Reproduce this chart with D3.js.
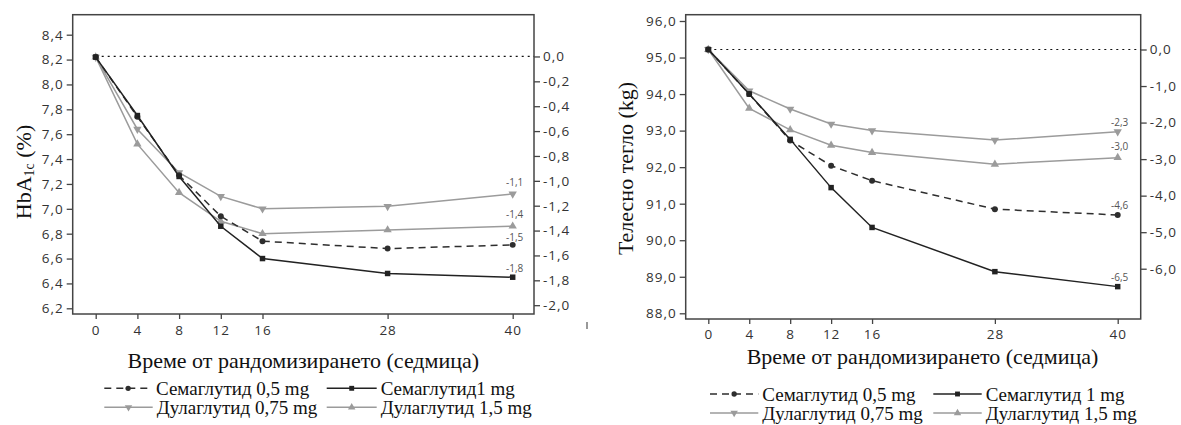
<!DOCTYPE html>
<html>
<head>
<meta charset="utf-8">
<script src="https://cdn.jsdelivr.net/npm/d3@7"></script>
<style>
  body { margin: 0; background: #fff; }
  .tick text { font-family: 'Open Sans', sans-serif; font-size: 13.5px; letter-spacing: 1px; fill: #333; }
  .tick line { stroke: #444; stroke-width: 1.3; }
  .serif { font-family: 'Liberation Serif', 'Times New Roman', serif; fill: #111; }
  .endlab { font-family: 'Open Sans', sans-serif; font-size: 10px; fill: #555; }
</style>
</head>
<body>
<div class="canvas"></div>
<script>
// data
const weeks = [0, 4, 8, 12, 16, 28, 40];
const seriesNames = ['Семаглутид 0,5 mg', 'Семаглутид1 mg', 'Дулаглутид 0,75 mg', 'Дулаглутид 1,5 mg'];
const seriesNamesWeight = ['Семаглутид 0,5 mg', 'Семаглутид 1 mg', 'Дулаглутид 0,75 mg', 'Дулаглутид 1,5 mg'];

const hbaSema05 = [8.22, 7.74, 7.27, 6.94, 6.74, 6.68, 6.71];
const hbaSema1 = [8.22, 7.75, 7.26, 6.86, 6.60, 6.48, 6.45];
const hbaDula075 = [8.22, 7.64, 7.29, 7.10, 7.00, 7.02, 7.12];
const hbaDula15 = [8.22, 7.52, 7.13, 6.90, 6.80, 6.83, 6.86];
const hbaEndLabels = ['-1,5', '-1,8', '-1,1', '-1,4'];
const hbaTicks = [6.2, 6.4, 6.6, 6.8, 7.0, 7.2, 7.4, 7.6, 7.8, 8.0, 8.2, 8.4];
const hbaChangeTicks = [-2.0, -1.8, -1.6, -1.4, -1.2, -1.0, -0.8, -0.6, -0.4, -0.2, 0.0];

const wSema05 = [95.22, 94.00, 92.73, 92.04, 91.63, 90.85, 90.69];
const wSema1 = [95.22, 94.00, 92.76, 91.44, 90.35, 89.14, 88.73];
const wDula075 = [95.22, 94.09, 93.59, 93.18, 93.00, 92.74, 92.97];
const wDula15 = [95.22, 93.61, 93.02, 92.60, 92.40, 92.08, 92.26];
const wEndLabels = ['-4,6', '-6,5', '-2,3', '-3,0'];
const wTicks = [88, 89, 90, 91, 92, 93, 94, 95, 96];
const wChangeTicks = [-6, -5, -4, -3, -2, -1, 0];

const xTitle = 'Време от рандомизирането (седмица)';

// number format with comma decimal and plain hyphen
const fmt = d3.formatLocale({ decimal: ',', thousands: ' ', grouping: [3], currency: ['', ''], minus: '-' }).format('.1f');

// series styles
const styles = [
  { color: '#2e2e2e', dash: '7,5', symbol: d3.symbolCircle, size: 28, rot: 0 },
  { color: '#222', dash: null, symbol: d3.symbolSquare, size: 30, rot: 0 },
  { color: '#9b9b9b', dash: null, symbol: d3.symbolTriangle, size: 30, rot: 180 },
  { color: '#9b9b9b', dash: null, symbol: d3.symbolTriangle, size: 30, rot: 0 }
];

const svg = d3.select('.canvas')
  .append('svg')
  .attr('width', 1181)
  .attr('height', 425);

const drawPanel = cfg => {
  const g = svg.append('g');
  const f = cfg.frame;

  const x = d3.scaleLinear().domain([0, 40]).range(cfg.xRange);
  const y = d3.scaleLinear().domain(cfg.yDomain).range(cfg.yRange);
  const pxPerUnit = (cfg.yRange[0] - cfg.yRange[1]) / (cfg.yDomain[1] - cfg.yDomain[0]);
  const yB = y(cfg.baseline);
  const y2 = d3.scaleLinear().domain([0, 1]).range([yB, yB - pxPerUnit]);

  // frame
  g.append('rect')
    .attr('x', f.x0).attr('y', f.y0)
    .attr('width', f.x1 - f.x0).attr('height', f.y1 - f.y0)
    .attr('fill', 'none')
    .attr('stroke', '#444')
    .attr('stroke-width', 1.5);

  // axes
  const yAxis = d3.axisLeft(y).tickValues(cfg.yTicks).tickFormat(fmt).tickSize(6).tickPadding(3);
  const y2Axis = d3.axisRight(y2).tickValues(cfg.changeTicks).tickFormat(fmt).tickSize(6).tickPadding(3);
  const xAxis = d3.axisBottom(x).tickValues(weeks).tickSize(5).tickPadding(cfg.xPad);

  g.append('g').attr('transform', `translate(${f.x0},0)`).call(yAxis);
  g.append('g').attr('transform', `translate(${f.x1},0)`).call(y2Axis);
  g.append('g').attr('transform', `translate(0,${f.y1})`).call(xAxis);
  g.selectAll('.domain').remove();

  // baseline
  g.append('line')
    .attr('x1', x(0)).attr('x2', f.x1)
    .attr('y1', yB).attr('y2', yB)
    .attr('stroke', '#111')
    .attr('stroke-width', 1.2)
    .attr('stroke-dasharray', '2,4');

  const line = d3.line()
    .x((d, i) => x(weeks[i]))
    .y(d => y(d));

  // draw gray series first, black on top
  [3, 2, 0, 1].forEach(k => {
    const s = styles[k];
    const data = cfg.series[k];
    g.append('path')
      .datum(data)
      .attr('fill', 'none')
      .attr('stroke', s.color)
      .attr('stroke-width', 1.5)
      .attr('stroke-dasharray', s.dash)
      .attr('d', line);

    g.selectAll(null)
      .data(data)
      .enter()
      .append('path')
        .attr('d', d3.symbol().type(s.symbol).size(s.size))
        .attr('transform', (d, i) => `translate(${x(weeks[i])},${y(d)}) rotate(${s.rot})`)
        .attr('fill', s.color);

    g.append('text')
      .attr('class', 'endlab')
      .attr('x', x(40) + 2)
      .attr('y', y(data[data.length - 1]) - cfg.labOff[k])
      .attr('text-anchor', 'middle')
      .text(cfg.endLabels[k]);
  });

  // y label
  const yl = g.append('text')
    .attr('class', 'serif')
    .attr('transform', `translate(${cfg.yLabel.x},${cfg.yLabel.y}) rotate(-90)`)
    .attr('text-anchor', 'middle')
    .style('font-size', '22px');
  cfg.yLabel.parts.forEach(p => {
    yl.append('tspan')
      .attr('dy', p.dy || 0)
      .style('font-size', p.size || null)
      .text(p.t);
  });

  // x title
  g.append('text')
    .attr('class', 'serif')
    .attr('x', cfg.title.x)
    .attr('y', cfg.title.y)
    .attr('text-anchor', 'middle')
    .style('font-size', '22px')
    .text(xTitle);

  // legend
  cfg.legend.forEach((l, k) => {
    const s = styles[k];
    const lg = g.append('g');
    lg.append('line')
      .attr('x1', l.x0).attr('x2', l.x1)
      .attr('y1', l.y).attr('y2', l.y)
      .attr('stroke', s.color)
      .attr('stroke-width', 1.5)
      .attr('stroke-dasharray', s.dash);
    lg.append('path')
      .attr('d', d3.symbol().type(s.symbol).size(s.size * 0.8))
      .attr('transform', `translate(${(l.x0 + l.x1) / 2},${l.y}) rotate(${s.rot})`)
      .attr('fill', s.color);
    lg.append('text')
      .attr('class', 'serif')
      .attr('x', l.x1 + 4)
      .attr('y', l.y + 6.5)
      .style('font-size', '19px')
      .text(cfg.names[k]);
  });

  return g;
};

// HbA1c panel
drawPanel({
  frame: { x0: 72.7, x1: 534, y0: 14.7, y1: 314 },
  xRange: [95.7, 512.7],
  yDomain: [6.2, 8.4],
  yRange: [308.3, 34.7],
  baseline: 8.225,
  yTicks: hbaTicks,
  changeTicks: hbaChangeTicks,
  xPad: 6,
  series: [hbaSema05, hbaSema1, hbaDula075, hbaDula15],
  endLabels: hbaEndLabels,
  labOff: [4, 5, 8, 8],
  names: seriesNames,
  yLabel: { x: 31, y: 172, parts: [{ t: 'HbA' }, { t: '1c', size: '14px', dy: 3 }, { t: ' (%)', size: '22px', dy: -3 }] },
  title: { x: 303.3, y: 367.5 },
  legend: [
    { x0: 104.3, x1: 152, y: 388.3 },
    { x0: 326.7, x1: 376.7, y: 388.3 },
    { x0: 104.3, x1: 152.7, y: 407.3 },
    { x0: 326.7, x1: 376.7, y: 407.3 }
  ]
});

// stray mark under the right axis
svg.append('line')
  .attr('x1', 587).attr('x2', 587)
  .attr('y1', 322).attr('y2', 329)
  .attr('stroke', '#555')
  .attr('stroke-width', 1.2);

// body weight panel
drawPanel({
  frame: { x0: 685.7, x1: 1140.7, y0: 14.7, y1: 319 },
  xRange: [708.3, 1117.7],
  yDomain: [88, 96],
  yRange: [313.3, 21],
  baseline: 95.22,
  yTicks: wTicks,
  changeTicks: wChangeTicks,
  xPad: 5,
  series: [wSema05, wSema1, wDula075, wDula15],
  endLabels: wEndLabels,
  labOff: [6, 6, 5.5, 7.5],
  names: seriesNamesWeight,
  yLabel: { x: 633, y: 168.5, parts: [{ t: 'Телесно тегло (kg)' }] },
  title: { x: 922.5, y: 364 },
  legend: [
    { x0: 710, x1: 758.3, y: 394 },
    { x0: 933.3, x1: 981.7, y: 394 },
    { x0: 710, x1: 758.3, y: 413 },
    { x0: 933.3, x1: 981.7, y: 413 }
  ]
});
</script>
</body>
</html>
